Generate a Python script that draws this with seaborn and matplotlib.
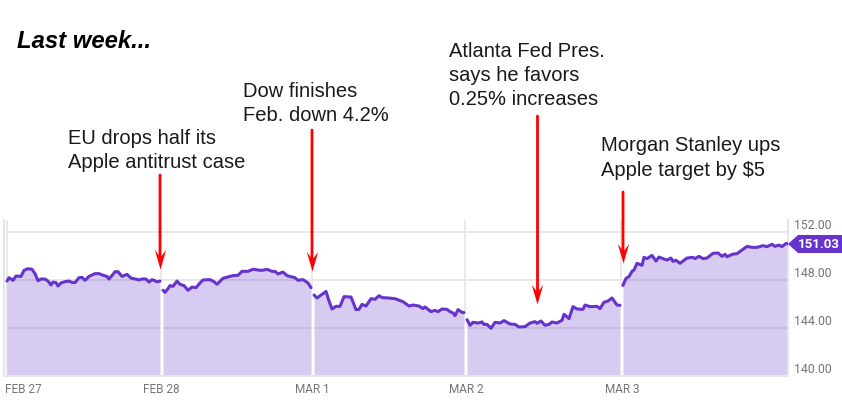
import matplotlib
matplotlib.use("Agg")
import pandas as pd
import matplotlib.pyplot as plt
import seaborn as sns
from matplotlib.patches import Polygon
from matplotlib.path import Path
from matplotlib.transforms import Affine2D

sns.set_style("white")
plt.rcParams['font.family'] = ['Liberation Sans', 'DejaVu Sans']

PURPLE = "#6633cc"
GRID = "#e6e6e6"
LABEL = "#757575"

# ── Data: one (bar, price) list per trading session ──────────────────────────
sessions = {
    "Feb 27": (
        [0, 2, 6, 9, 14, 17, 21, 25, 28, 31, 34, 38, 41, 44, 46, 49, 51, 54, 58, 62, 65, 68, 72, 75, 78,
         82, 88, 92, 96, 100, 102, 106, 108, 111, 115, 120, 124, 130, 132, 135, 139, 142, 145, 150, 153],
        [147.94, 148.22, 148.00, 148.36, 148.33, 148.83, 148.97, 148.92, 148.56, 147.97, 148.11, 148.11,
         147.94, 147.61, 147.86, 147.81, 147.53, 147.78, 147.89, 147.94, 147.83, 147.81, 148.22, 148.25,
         148.00, 148.33, 148.56, 148.56, 148.42, 148.33, 148.11, 148.50, 148.72, 148.72, 148.33, 148.50,
         148.19, 148.08, 148.03, 148.11, 148.11, 147.86, 148.06, 147.89, 147.94],
    ),
    "Feb 28": (
        [156, 158, 161, 163, 166, 170, 173, 177, 181, 185, 189, 193, 196, 203, 207, 210, 216, 223, 226,
         231, 235, 241, 246, 251, 255, 260, 265, 268, 271, 276, 280, 288, 291, 296, 301, 304],
        [147.17, 147.00, 147.31, 147.56, 147.50, 147.94, 147.67, 147.56, 147.17, 147.44, 147.39, 147.78,
         148.03, 148.06, 147.89, 147.67, 148.17, 148.33, 148.39, 148.42, 148.75, 148.75, 148.92, 148.86,
         148.83, 148.92, 148.75, 148.75, 148.53, 148.69, 148.39, 148.22, 148.00, 148.06, 147.78, 147.39],
    ),
    "Mar 1": (
        [307, 310, 315, 319, 322, 325, 329, 333, 337, 344, 346, 349, 352, 355, 359, 364, 368, 372, 375,
         381, 388, 396, 402, 406, 412, 416, 418, 424, 428, 431, 435, 440, 443, 446, 448, 451, 455, 457],
        [146.78, 146.53, 146.83, 147.08, 146.28, 145.61, 145.83, 145.83, 146.64, 146.61, 146.19, 145.56,
         145.58, 146.00, 145.86, 146.47, 146.42, 146.72, 146.56, 146.53, 146.47, 146.22, 145.86, 145.94,
         145.86, 145.64, 145.78, 145.39, 145.50, 145.39, 145.61, 145.58, 145.39, 145.28, 145.06, 145.56,
         145.33, 145.31],
    ),
    "Mar 2": (
        [460, 463, 466, 471, 475, 477, 480, 484, 488, 493, 497, 503, 508, 512, 518, 523, 528, 530, 534,
         538, 542, 545, 550, 555, 557, 562, 566, 570, 576, 578, 583, 590, 593, 597, 601, 605, 610, 613],
        [144.72, 144.25, 144.50, 144.44, 144.53, 144.33, 144.33, 144.00, 144.50, 144.44, 144.64, 144.36,
         144.33, 144.11, 144.14, 144.44, 144.56, 144.42, 144.61, 144.25, 144.33, 144.53, 144.44, 144.67,
         145.17, 144.81, 145.81, 145.61, 145.58, 145.94, 145.81, 145.83, 145.64, 146.17, 146.28, 146.53,
         145.94, 145.92],
    ),
    "Mar 3": (
        [616, 619, 622, 625, 627, 630, 635, 637, 640, 645, 649, 652, 656, 660, 664, 666, 669, 673, 680,
         686, 688, 692, 696, 700, 706, 711, 715, 718, 720, 726, 730, 735, 740, 745, 750, 756, 760, 765,
         768, 772, 775, 779, 781],
        [147.58, 148.17, 148.31, 148.75, 148.86, 149.42, 149.25, 149.92, 149.81, 150.08, 149.61, 149.94,
         149.81, 149.69, 149.86, 149.58, 149.67, 149.42, 149.86, 149.92, 149.81, 150.00, 149.81, 149.86,
         150.25, 150.28, 150.00, 150.17, 149.97, 150.19, 150.22, 150.53, 150.83, 150.75, 150.75, 150.89,
         150.81, 151.00, 150.83, 150.94, 150.81, 151.08, 151.03],
    ),
}
prices = pd.concat(
    [pd.DataFrame({"session": name, "bar": bars, "price": vals}) for name, (bars, vals) in sessions.items()]
)

# label, text position (px), arrow bar, arrow tip price, arrow top (px)
events = [
    ("EU drops half its\nApple antitrust case", 68, 150.5, 153, 148.94, 175),
    ("Dow finishes\nFeb. down 4.2%", 243, 103.5, 305, 148.77, 130),
    ("Atlanta Fed Pres.\nsays he favors\n0.25% increases", 449, 75.5, 530.5, 146.03, 116),
    ("Morgan Stanley ups\nApple target by $5", 601, 158, 616, 149.44, 192),
]

# barbed arrow head, tip at the origin
BARB = Path([(0, 0), (-0.29, 1), (0, 0.62), (0.29, 1), (0, 0)],
            [Path.MOVETO, Path.LINETO, Path.LINETO, Path.LINETO, Path.CLOSEPOLY])

# ── Figure ───────────────────────────────────────────────────────────────────
fig = plt.figure(figsize=(8.42, 4.0), dpi=100)
ax = fig.add_axes([4 / 842, 1 - 376.3 / 400, 784 / 842, 156.3 / 400])
px = Affine2D().scale(1 / 842, -1 / 400).translate(0, 1) + fig.transFigure

for bar in [0, 154.5, 305.5, 458.5, 614.5]:
    ax.axvline(bar, color=GRID, lw=1.2, zorder=1)
for level in [144, 148, 152]:
    ax.axhline(level, color=GRID, lw=1.3, zorder=1)
# session gaps stay white inside the filled area
for bar, top in [(154.5, 147.9), (305.5, 147.4), (458.5, 145.3), (614.5, 147.5)]:
    ax.vlines(bar, 140, top, color="white", lw=2, zorder=1.5)

sns.lineplot(data=prices, x="bar", y="price", units="session", estimator=None,
             color=PURPLE, lw=2.2, ax=ax, zorder=4)
for name, part in prices.groupby("session"):
    ax.fill_between(part["bar"], 140, part["price"], color=PURPLE, alpha=0.25, lw=0, zorder=2)

ax.set_xlim(-3, 781)
ax.set_ylim(140, 153.03)
ax.set_xlabel("")
ax.set_ylabel("")

ax.set_xticks([-2, 154.5, 305.5, 459, 615.5])
ax.set_xticklabels(["FEB 27", "FEB 28", "MAR 1", "MAR 2", "MAR 3"],
                   family="Roboto", fontsize=8.5, color=LABEL)
ax.get_xticklabels()[0].set_ha("left")
ax.tick_params(axis="x", length=0, pad=5)

ax.yaxis.tick_right()
ax.set_yticks([140, 144, 148, 152])
ax.set_yticklabels(["140.00", "144.00", "148.00", "152.00"],
                   family="Roboto", fontsize=8.8, color=LABEL, va="bottom")
ax.tick_params(axis="y", length=0, pad=4)

for side in ["left", "bottom", "right"]:
    ax.spines[side].set_color(GRID)
    ax.spines[side].set_linewidth(1.5)
ax.spines["top"].set_visible(False)

# last price tag
fig.add_artist(Polygon([(788, 244), (798, 235), (842, 235), (842, 253), (798, 253)],
                       closed=True, facecolor=PURPLE, edgecolor="none", transform=px))
fig.text(819, 244, "151.03", transform=px, family="Roboto", fontweight="bold",
         fontsize=9.5, color="white", ha="center", va="center")

# ── Annotations ──────────────────────────────────────────────────────────────
fig.text(17, 41, "Last week...", transform=px, fontsize=17.2, fontweight="bold",
         style="italic", color="black", va="center")
for text, tx, ty, bar, tip, top in events:
    fig.text(tx, ty, text, transform=px, fontsize=14.5, color="#1a1a1a", va="center",
             linespacing=1.34)
    # px = bar + 7 on this axes
    ax.annotate("", xy=(bar, tip), xycoords="data", xytext=(bar + 7, top), textcoords=px,
                annotation_clip=False, zorder=6,
                arrowprops=dict(arrowstyle="-", color="#ff0000", lw=2, shrinkA=0, shrinkB=6))
    ax.plot([bar], [tip], marker=BARB, ms=28, color="#ff0000", mew=0, clip_on=False, zorder=6)

fig.savefig("out.png", dpi=100)
plt.close(fig)
